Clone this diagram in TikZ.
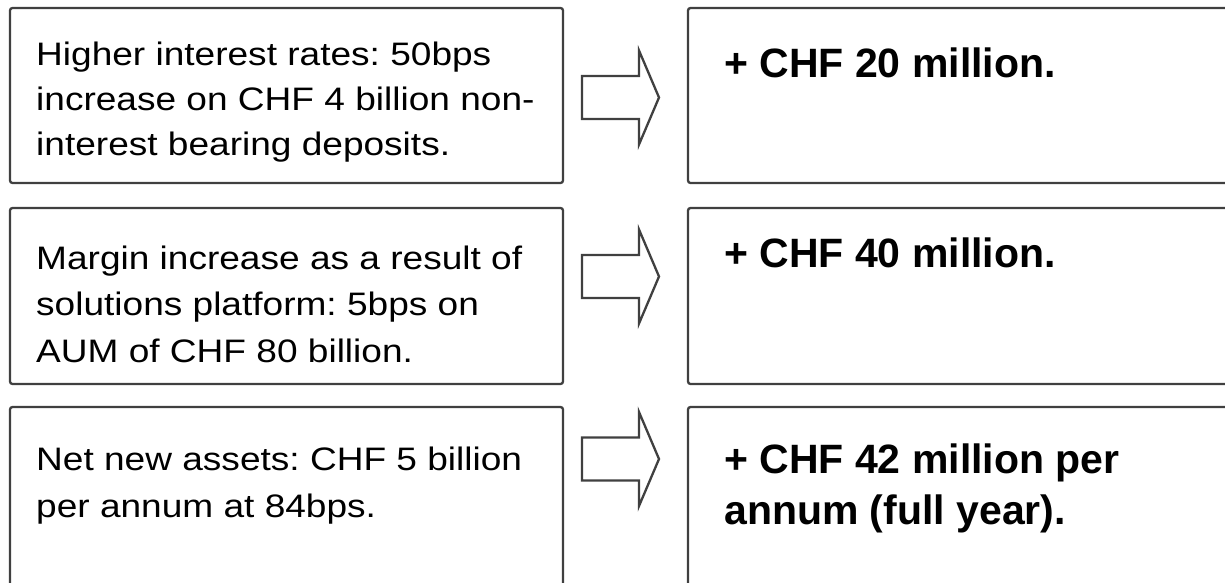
\documentclass[tikz,border=0pt]{standalone}
\usepackage{fontspec}
\setmainfont{Liberation Sans}
\newfontfamily\widesans[FakeStretch=1.14]{Liberation Sans}
\frenchspacing
\begin{document}
\begin{tikzpicture}[x=1pt,y=-1pt,
  box/.style={draw=black!75,line width=2.3pt,rounded corners=2.5pt},
  lefttext/.style={anchor=base west,inner sep=0pt,align=left,font=\widesans\fontsize{32.5}{46.5}\selectfont},
  righttext/.style={anchor=base west,inner sep=0pt,align=left,font=\fontsize{41}{51}\selectfont\bfseries},
  blockarrow/.style={draw=black!75,line width=2.3pt,line join=miter}]
\useasboundingbox (0,0) rectangle (1225,582);
\clip (0,0) rectangle (1225,582);
% boxes
\draw[box] (10,8) rectangle (563,183);
\draw[box] (10,208) rectangle (563,384);
\draw[box] (10,407) rectangle (563,620);
\draw[box] (688,8) rectangle (1260,183);
\draw[box] (688,208) rectangle (1260,384);
\draw[box] (688,407) rectangle (1260,620);
% texts (base anchor = baseline of the last line)
\node[lefttext,font=\widesans\fontsize{32.5}{44.7}\selectfont] (t1) at (36,155) {Higher interest rates: 50bps\\increase on CHF 4 billion non-\\interest bearing deposits.};
\node[lefttext] (t2) at (36,362) {Margin increase as a result of\\solutions platform: 5bps on\\AUM of CHF 80 billion.};
\node[lefttext] (t3) at (36,517) {Net new assets: CHF 5 billion\\per annum at 84bps.};
\node[righttext] (r1) at (724,77) {+ CHF 20 million.};
\node[righttext] (r2) at (724,267) {+ CHF 40 million.};
\node[righttext] (r3) at (724,524) {+ CHF 42 million per\\annum (full year).};
% block arrows
\foreach \c in {97.5,276.5,459}{
  \draw[blockarrow] (582,\c-21.5) -- (639,\c-21.5) -- (639,\c-47) -- (659,\c) -- (639,\c+47) -- (639,\c+21.5) -- (582,\c+21.5) -- cycle;
}
\end{tikzpicture}
\end{document}
